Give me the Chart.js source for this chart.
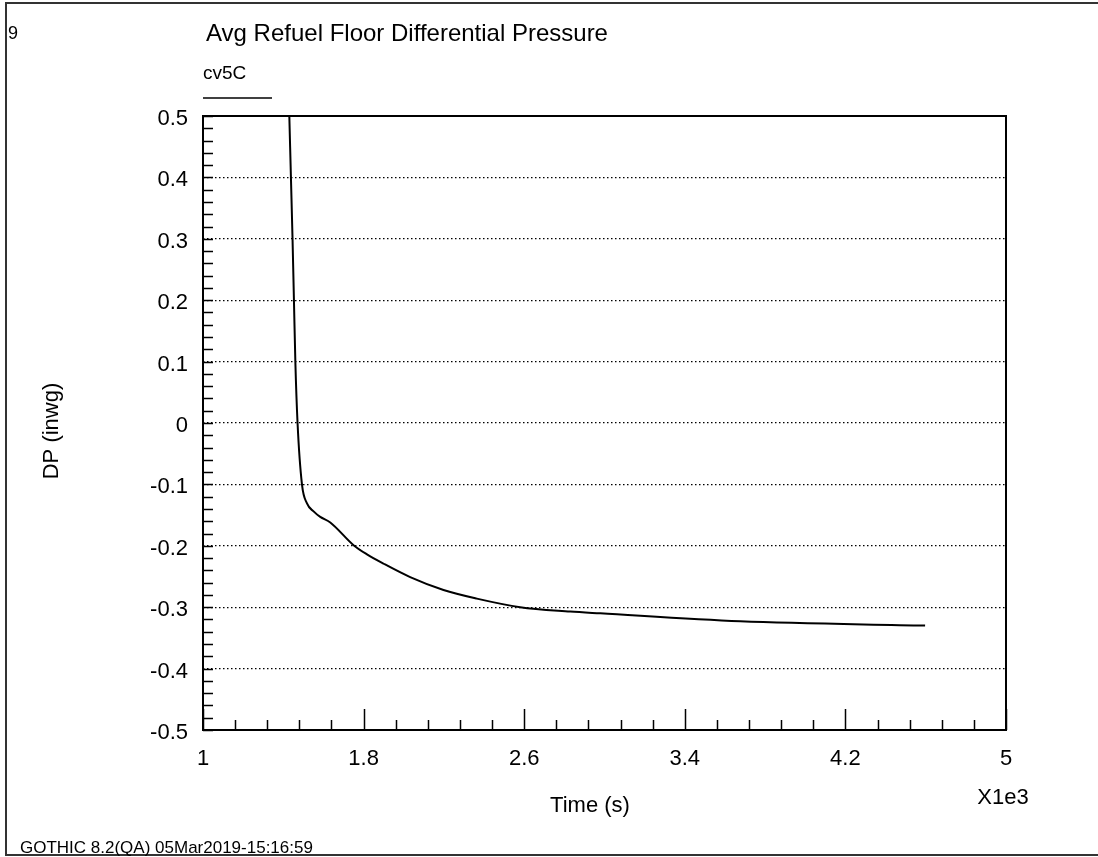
<!DOCTYPE html>
<html>
<head>
<meta charset="utf-8">
<script src="https://cdn.jsdelivr.net/npm/chart.js@4.4.1/dist/chart.umd.min.js"></script>
<style>
  html, body { margin: 0; padding: 0; background: #fff; }
  #wrap { width: 1098px; height: 857px; position: relative; }
</style>
</head>
<body>
<div id="wrap"><canvas id="canvas" width="1098" height="857"></canvas></div>
<script>
// values (time in s, DP in inwg)
var timeSec = [1430, 1438, 1446, 1453, 1460, 1471, 1493, 1518, 1551, 1584, 1634, 1750, 1817, 1899, 2032, 2198, 2364, 2580, 2829, 2979, 3676, 4597]
var dpCv5C = [0.5, 0.4, 0.3, 0.2, 0.1, 0.0, -0.1, -0.131, -0.144, -0.153, -0.162, -0.199, -0.214, -0.229, -0.251, -0.272, -0.286, -0.300, -0.307, -0.310, -0.323, -0.330]
var xTicks = [1, 1.8, 2.6, 3.4, 4.2, 5]
var yTicks = [0.5, 0.4, 0.3, 0.2, 0.1, 0, -0.1, -0.2, -0.3, -0.4, -0.5]

var titleText = "Avg Refuel Floor Differential Pressure"
var seriesName = "cv5C"
var footerText = "GOTHIC 8.2(QA) 05Mar2019-15:16:59"

var points = timeSec.map(function(t, i) {
    return { x: t / 1000, y: dpCv5C[i] }
})

var FONT = "'Liberation Sans', Arial, sans-serif"

// frame, inward ticks and the loose text around the plot
var gothicDecor = {
    id: 'gothicDecor',
    afterDraw: function(chart) {
        var ctx = chart.ctx
        var a = chart.chartArea
        var xs = chart.scales.x
        var ys = chart.scales.y
        ctx.save()

        // outer page frame
        ctx.strokeStyle = '#333'
        ctx.lineWidth = 2
        ctx.beginPath()
        ctx.moveTo(1098, 3); ctx.lineTo(6, 3); ctx.lineTo(6, 855); ctx.lineTo(1098, 855)
        ctx.stroke()

        // plot box
        ctx.strokeStyle = '#000'
        ctx.lineWidth = 2
        ctx.strokeRect(a.left, a.top, a.right - a.left, a.bottom - a.top)

        // y minor ticks every 0.02
        ctx.lineWidth = 1.5
        ctx.beginPath()
        for (var k = -25; k <= 25; k++) {
            var py = Math.round(ys.getPixelForValue(k * 0.02)) + 0.5
            ctx.moveTo(a.left, py); ctx.lineTo(a.left + 10, py)
        }
        // x ticks every 0.16, labelled ones longer
        for (var j = 0; j <= 25; j++) {
            var px = Math.round(xs.getPixelForValue(1 + j * 0.16)) + 0.5
            var len = (j % 5 === 0) ? 21 : 10
            ctx.moveTo(px, a.bottom); ctx.lineTo(px, a.bottom - len)
        }
        ctx.stroke()

        // legend sample
        ctx.lineWidth = 1.5
        ctx.beginPath()
        ctx.moveTo(203, 98); ctx.lineTo(272, 98)
        ctx.stroke()

        ctx.fillStyle = '#000'
        ctx.textBaseline = 'alphabetic'
        ctx.textAlign = 'left'
        ctx.font = '18px ' + FONT
        ctx.fillText('9', 8, 39)
        ctx.font = '24px ' + FONT
        ctx.fillText(titleText, 206, 41)
        ctx.font = '19px ' + FONT
        ctx.fillText(seriesName, 203, 79)
        ctx.font = '22px ' + FONT
        ctx.textAlign = 'center'
        ctx.fillText('Time (s)', 590, 812)
        ctx.fillText('X1e3', 1003, 804)
        ctx.font = '17px ' + FONT
        ctx.textAlign = 'left'
        ctx.fillText(footerText, 20, 853)

        ctx.translate(58, 431)
        ctx.rotate(-Math.PI / 2)
        ctx.textAlign = 'center'
        ctx.font = '22px ' + FONT
        ctx.fillText('DP (inwg)', 0, 0)
        ctx.restore()
    }
}

var chart_dp = new Chart(document.getElementById("canvas").getContext("2d"), {
    type: 'line',
    data: {
        datasets: [{
            label: seriesName,
            data: points,
            borderColor: '#000',
            borderWidth: 2,
            pointRadius: 0,
            fill: false,
            cubicInterpolationMode: 'monotone'
        }]
    },
    options: {
        responsive: false,
        animation: false,
        devicePixelRatio: 1,
        layout: { padding: { left: 0, top: 116, right: 92, bottom: 0 } },
        plugins: {
            legend: { display: false },
            title: { display: false },
            tooltip: { enabled: false }
        },
        scales: {
            x: {
                type: 'linear',
                min: 1,
                max: 5,
                afterFit: function(s) { s.height = 127 },
                afterBuildTicks: function(s) {
                    s.ticks = xTicks.map(function(v) { return { value: v } })
                },
                grid: { display: false, drawTicks: false },
                border: { display: false },
                ticks: {
                    color: '#000',
                    padding: 16,
                    maxRotation: 0,
                    autoSkip: false,
                    font: { family: FONT, size: 22 },
                    callback: function(v) { return String(Math.round(v * 10) / 10) }
                }
            },
            y: {
                type: 'linear',
                min: -0.5,
                max: 0.5,
                afterFit: function(s) { s.width = 203 },
                afterBuildTicks: function(s) {
                    s.ticks = yTicks.map(function(v) { return { value: v } })
                },
                grid: { color: '#000', lineWidth: 1.2, drawTicks: false },
                border: { display: false, dash: [1.5, 2.5] },
                ticks: {
                    color: '#000',
                    padding: 15,
                    labelOffset: 3,
                    autoSkip: false,
                    font: { family: FONT, size: 22 },
                    callback: function(v) { return v === 0 ? '0' : (Math.round(v * 10) / 10).toFixed(1) }
                }
            }
        }
    },
    plugins: [gothicDecor]
})
</script>
</body>
</html>
